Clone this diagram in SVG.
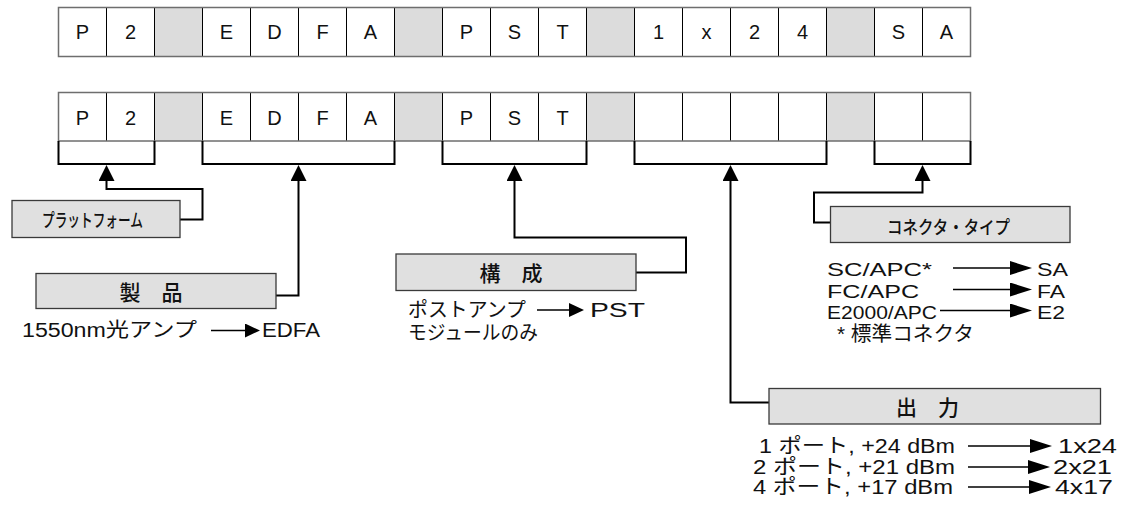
<svg xmlns="http://www.w3.org/2000/svg" width="1125" height="506" viewBox="0 0 1125 506">
  <defs>
    <style>
      .cell { font-family: "Liberation Sans", "Noto Sans CJK JP", sans-serif; font-size: 20px; fill: #111; text-anchor: middle; }
      .txt { font-family: "Liberation Sans", "Noto Sans CJK JP", sans-serif; font-size: 20px; fill: #111; }
      .txt18 { font-family: "Liberation Sans", "Noto Sans CJK JP", sans-serif; font-size: 18.5px; fill: #111; }
      .lbl { font-family: "Noto Sans CJK JP", sans-serif; font-size: 21px; font-weight: 500; fill: #111; text-anchor: middle; dominant-baseline: central; }
      .lbls { font-family: "Noto Sans CJK JP", sans-serif; font-size: 18px; font-weight: 500; fill: #111; dominant-baseline: central; }
      .gray { fill: #dcdcdc; }
      .divider { stroke: #000; stroke-width: 1; fill: none; }
      .frame { stroke: #6e6e6e; stroke-width: 1.5; fill: none; }
      .bracket { stroke: #000; stroke-width: 2; fill: none; }
      .box { fill: #e0e0e0; stroke: #3a3a3a; stroke-width: 1.3; }
      .conn { stroke: #000; stroke-width: 2; fill: none; marker-end: url(#headUp); }
      .pointer { stroke: #000; stroke-width: 1.5; fill: none; }
    </style>
    <marker id="headUp" markerUnits="userSpaceOnUse" markerWidth="17" markerHeight="17" refX="1" refY="8" orient="auto">
      <path d="M0,0 L16,8 L0,16 Z" fill="#000"/>
    </marker>
    <marker id="headShort" markerUnits="userSpaceOnUse" markerWidth="16" markerHeight="15" refX="1" refY="7" orient="auto">
      <path d="M0,0 L15,7 L0,14 Z" fill="#000"/>
    </marker>
    <marker id="headLong" markerUnits="userSpaceOnUse" markerWidth="23" markerHeight="15" refX="1" refY="7" orient="auto">
      <path d="M0,0 L22,7 L0,14 Z" fill="#000"/>
    </marker>
  </defs>

  <rect width="1125" height="506" fill="#fff"/>

  <!-- example code: P2-EDFA-PST-1x24-SA -->
  <g id="code-example">
    <rect x="58.5" y="7.5" width="912" height="49" fill="#fff"/>
    <rect class="gray" x="154.5" y="7.5" width="48" height="49"/>
    <rect class="gray" x="394.5" y="7.5" width="48" height="49"/>
    <rect class="gray" x="586.5" y="7.5" width="48" height="49"/>
    <rect class="gray" x="826.5" y="7.5" width="48" height="49"/>
    <path class="divider" d="M106.5,7.5V56.5M154.5,7.5V56.5M202.5,7.5V56.5M250.5,7.5V56.5M298.5,7.5V56.5M346.5,7.5V56.5M394.5,7.5V56.5M442.5,7.5V56.5M490.5,7.5V56.5M538.5,7.5V56.5M586.5,7.5V56.5M634.5,7.5V56.5M682.5,7.5V56.5M730.5,7.5V56.5M778.5,7.5V56.5M826.5,7.5V56.5M874.5,7.5V56.5M922.5,7.5V56.5"/>
    <rect class="frame" x="58.5" y="7.5" width="912" height="49"/>
    <text class="cell" x="82.5" y="39">P</text>
    <text class="cell" x="130.5" y="39">2</text>
    <text class="cell" x="226.5" y="39">E</text>
    <text class="cell" x="274.5" y="39">D</text>
    <text class="cell" x="322.5" y="39">F</text>
    <text class="cell" x="370.5" y="39">A</text>
    <text class="cell" x="466.5" y="39">P</text>
    <text class="cell" x="514.5" y="39">S</text>
    <text class="cell" x="562.5" y="39">T</text>
    <text class="cell" x="658.5" y="39">1</text>
    <text class="cell" x="706.5" y="39">x</text>
    <text class="cell" x="754.5" y="39">2</text>
    <text class="cell" x="802.5" y="39">4</text>
    <text class="cell" x="898.5" y="39">S</text>
    <text class="cell" x="946.5" y="39">A</text>
  </g>

  <!-- field layout row -->
  <g id="code-fields">
    <rect x="58.5" y="92.5" width="912" height="48.5" fill="#fff"/>
    <rect class="gray" x="154.5" y="92.5" width="48" height="48.5"/>
    <rect class="gray" x="394.5" y="92.5" width="48" height="48.5"/>
    <rect class="gray" x="586.5" y="92.5" width="48" height="48.5"/>
    <rect class="gray" x="826.5" y="92.5" width="48" height="48.5"/>
    <path class="divider" d="M106.5,92.5V141M154.5,92.5V141M202.5,92.5V141M250.5,92.5V141M298.5,92.5V141M346.5,92.5V141M394.5,92.5V141M442.5,92.5V141M490.5,92.5V141M538.5,92.5V141M586.5,92.5V141M634.5,92.5V141M682.5,92.5V141M730.5,92.5V141M778.5,92.5V141M826.5,92.5V141M874.5,92.5V141M922.5,92.5V141"/>
    <rect class="frame" x="58.5" y="92.5" width="912" height="48.5"/>
    <text class="cell" x="82.5" y="124.5">P</text>
    <text class="cell" x="130.5" y="124.5">2</text>
    <text class="cell" x="226.5" y="124.5">E</text>
    <text class="cell" x="274.5" y="124.5">D</text>
    <text class="cell" x="322.5" y="124.5">F</text>
    <text class="cell" x="370.5" y="124.5">A</text>
    <text class="cell" x="466.5" y="124.5">P</text>
    <text class="cell" x="514.5" y="124.5">S</text>
    <text class="cell" x="562.5" y="124.5">T</text>
  </g>

  <!-- brackets under each field -->
  <g id="brackets">
    <path class="bracket" d="M58.5,141V164H154.5V141"/>
    <path class="bracket" d="M202.5,141V164H394.5V141"/>
    <path class="bracket" d="M442.5,141V164H586.5V141"/>
    <path class="bracket" d="M634.5,141V164H826.5V141"/>
    <path class="bracket" d="M874.5,141V164H970.5V141"/>
  </g>

  <!-- connectors from labels up to fields -->
  <g id="connectors">
    <path class="conn" d="M180,219.5H202.5V189H106.5V180"/>
    <path class="conn" d="M276,295.5H298.5V180"/>
    <path class="conn" d="M636,272.5H686V237.5H514.5V180"/>
    <path class="conn" d="M769,402.5H730.5V180"/>
    <path class="conn" d="M830.5,222.5H814V192.5H922.5V180"/>
  </g>

  <g id="platform">
    <rect class="box" x="12" y="200.5" width="168" height="37"/>
    <text class="lbls" x="42" y="219" textLength="101" lengthAdjust="spacingAndGlyphs">プラットフォーム</text>
  </g>

  <g id="product">
    <rect class="box" x="36" y="273.5" width="240" height="35"/>
    <text class="lbl" x="151" y="291">製　品</text>
    <text class="txt" x="22" y="337" textLength="175" lengthAdjust="spacingAndGlyphs">1550nm光アンプ</text>
    <path class="pointer" d="M211,330.5H246" marker-end="url(#headShort)"/>
    <text class="txt" x="262" y="337" textLength="58" lengthAdjust="spacingAndGlyphs">EDFA</text>
  </g>

  <g id="configuration">
    <rect class="box" x="396" y="254" width="240" height="36.5"/>
    <text class="lbl" x="511" y="272">構　成</text>
    <text class="txt" x="408" y="317" textLength="118" lengthAdjust="spacingAndGlyphs">ポストアンプ</text>
    <path class="pointer" d="M537,310H570" marker-end="url(#headShort)"/>
    <text class="txt" x="590" y="317" textLength="55" lengthAdjust="spacingAndGlyphs">PST</text>
    <text class="txt" x="408" y="340" textLength="130" lengthAdjust="spacingAndGlyphs">モジュールのみ</text>
  </g>

  <g id="connector-type">
    <rect class="box" x="830.5" y="206.5" width="239.5" height="36"/>
    <text class="lbls" x="887" y="226" textLength="123" lengthAdjust="spacingAndGlyphs">コネクタ・タイプ</text>
    <text class="txt18" x="827" y="276" textLength="105" lengthAdjust="spacingAndGlyphs">SC/APC*</text>
    <path class="pointer" d="M953,268H1011" marker-end="url(#headLong)"/>
    <text class="txt18" x="1037" y="276" textLength="31" lengthAdjust="spacingAndGlyphs">SA</text>
    <text class="txt18" x="827" y="297.5" textLength="92" lengthAdjust="spacingAndGlyphs">FC/APC</text>
    <path class="pointer" d="M953,289.5H1011" marker-end="url(#headLong)"/>
    <text class="txt18" x="1037" y="297.5" textLength="28" lengthAdjust="spacingAndGlyphs">FA</text>
    <text class="txt18" x="827" y="318.5" textLength="110" lengthAdjust="spacingAndGlyphs">E2000/APC</text>
    <path class="pointer" d="M940,310.5H1011" marker-end="url(#headLong)"/>
    <text class="txt18" x="1037" y="318.5" textLength="28" lengthAdjust="spacingAndGlyphs">E2</text>
    <text class="txt" x="837" y="341" textLength="137" lengthAdjust="spacingAndGlyphs">* 標準コネクタ</text>
  </g>

  <g id="output">
    <rect class="box" x="769" y="388.5" width="331.5" height="35.5"/>
    <text class="lbl" x="927.5" y="406">出　力</text>
    <text class="txt" x="759" y="453" textLength="196" lengthAdjust="spacingAndGlyphs">1 ポート, +24 dBm</text>
    <path class="pointer" d="M968,446H1031" marker-end="url(#headLong)"/>
    <text class="txt" x="1058" y="453" textLength="59" lengthAdjust="spacingAndGlyphs">1x24</text>
    <text class="txt" x="753" y="474" textLength="202" lengthAdjust="spacingAndGlyphs">2 ポート, +21 dBm</text>
    <path class="pointer" d="M968,467H1029" marker-end="url(#headLong)"/>
    <text class="txt" x="1053" y="474" textLength="59" lengthAdjust="spacingAndGlyphs">2x21</text>
    <text class="txt" x="753" y="494" textLength="200" lengthAdjust="spacingAndGlyphs">4 ポート, +17 dBm</text>
    <path class="pointer" d="M968,487H1030" marker-end="url(#headLong)"/>
    <text class="txt" x="1055" y="494" textLength="58" lengthAdjust="spacingAndGlyphs">4x17</text>
  </g>
</svg>
